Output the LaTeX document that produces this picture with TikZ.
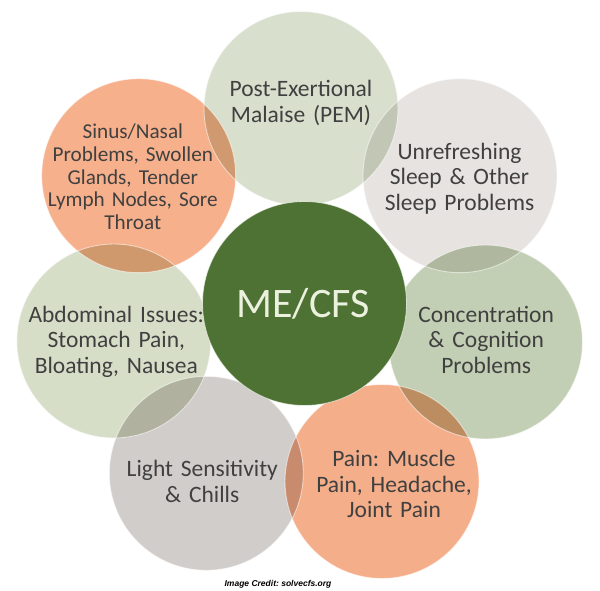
\documentclass[tikz,border=0pt]{standalone}
\usepackage{fontspec}
\setmainfont{Carlito}
\newfontfamily\creditfont{Liberation Sans}
\frenchspacing
\definecolor{cpem}{HTML}{D8DFCD}
\definecolor{cabd}{HTML}{D7DEC8}
\definecolor{cconc}{HTML}{C3CFB4}
\definecolor{csinus}{HTML}{F6B08C}
\definecolor{cpain}{HTML}{F5AE8A}
\definecolor{cunref}{HTML}{E6E3E0}
\definecolor{clight}{HTML}{D1CDCB}
\definecolor{ccore}{HTML}{4E7233}
\definecolor{ccoretext}{HTML}{EBF1DE}
\definecolor{txtgray}{HTML}{404040}
\begin{document}
\frenchspacing
\begin{tikzpicture}[x=1pt,y=-1pt,
  bubble/.style={circle, draw=none, minimum size=194pt, inner sep=0pt},
  rimline/.style={draw=white, draw opacity=0.55, line width=0.9pt},
  txt/.style={anchor=base, inner sep=0pt, text width=220pt, align=center, text=txtgray,
    font=\frenchspacing\fontsize{23.5}{25.4}\selectfont},
]
\useasboundingbox (0,0) rectangle (600,591);
\fill[white] (0,0) rectangle (600,591);
\begin{scope}[blend mode=multiply]
\node[bubble, fill=csinus] (sinus) at (138.7,175.7) {};
\node[bubble, fill=cpem]   (pem)   at (301,108.5) {};
\node[bubble, fill=cunref] (unref) at (460,175.7) {};
\node[bubble, fill=cconc]  (conc)  at (485.5,342) {};
\node[bubble, fill=cpain]  (pain)  at (382,481.5) {};
\node[bubble, fill=clight] (light) at (206.3,473.3) {};
\node[bubble, fill=cabd]   (abd)   at (113.8,341) {};
\end{scope}
\foreach \n in {sinus,pem,unref,conc,pain,light,abd}
  \draw[rimline] (\n.center) circle[radius=97pt];
\node[circle, fill=ccore, draw=white, draw opacity=0.6, line width=0.8pt, minimum size=204pt, inner sep=0pt] (core) at (304.5,303.5) {};

\node[txt] (tpem) at (301,96.7) {Post-Exertional\\Malaise (PEM)};
\node[txt, font=\frenchspacing\fontsize{21.2}{22.6}\selectfont] (tsinus) at (132.8,139) {Sinus/Nasal\\Problems, Swollen\\Glands, Tender\\Lymph Nodes, Sore\\Throat};
\node[txt] (tunref) at (459.5,159.3) {Unrefreshing\\Sleep \& Other\\Sleep Problems};
\node[txt] (tconc) at (486.2,322.3) {Concentration\\\& Cognition\\Problems};
\node[txt] (tpain) at (394,466.7) {Pain: Muscle\\Pain, Headache,\\Joint Pain};
\node[txt] (tlight) at (202.3,476.7) {Light Sensitivity\\\& Chills};
\node[txt] (tabd) at (116.3,322.3) {Abdominal Issues:\\Stomach Pain,\\Bloating, Nausea};
\node[anchor=base, inner sep=0pt, text=ccoretext, font=\fontsize{42}{48}\selectfont] (tcore) at (303,317) {ME/CFS};
\node[anchor=base, inner sep=0pt, text=black, font=\creditfont\bfseries\itshape\fontsize{8.5}{10}\selectfont] (credit) at (278,586) {Image Credit: solvecfs.org};
\end{tikzpicture}
\end{document}
